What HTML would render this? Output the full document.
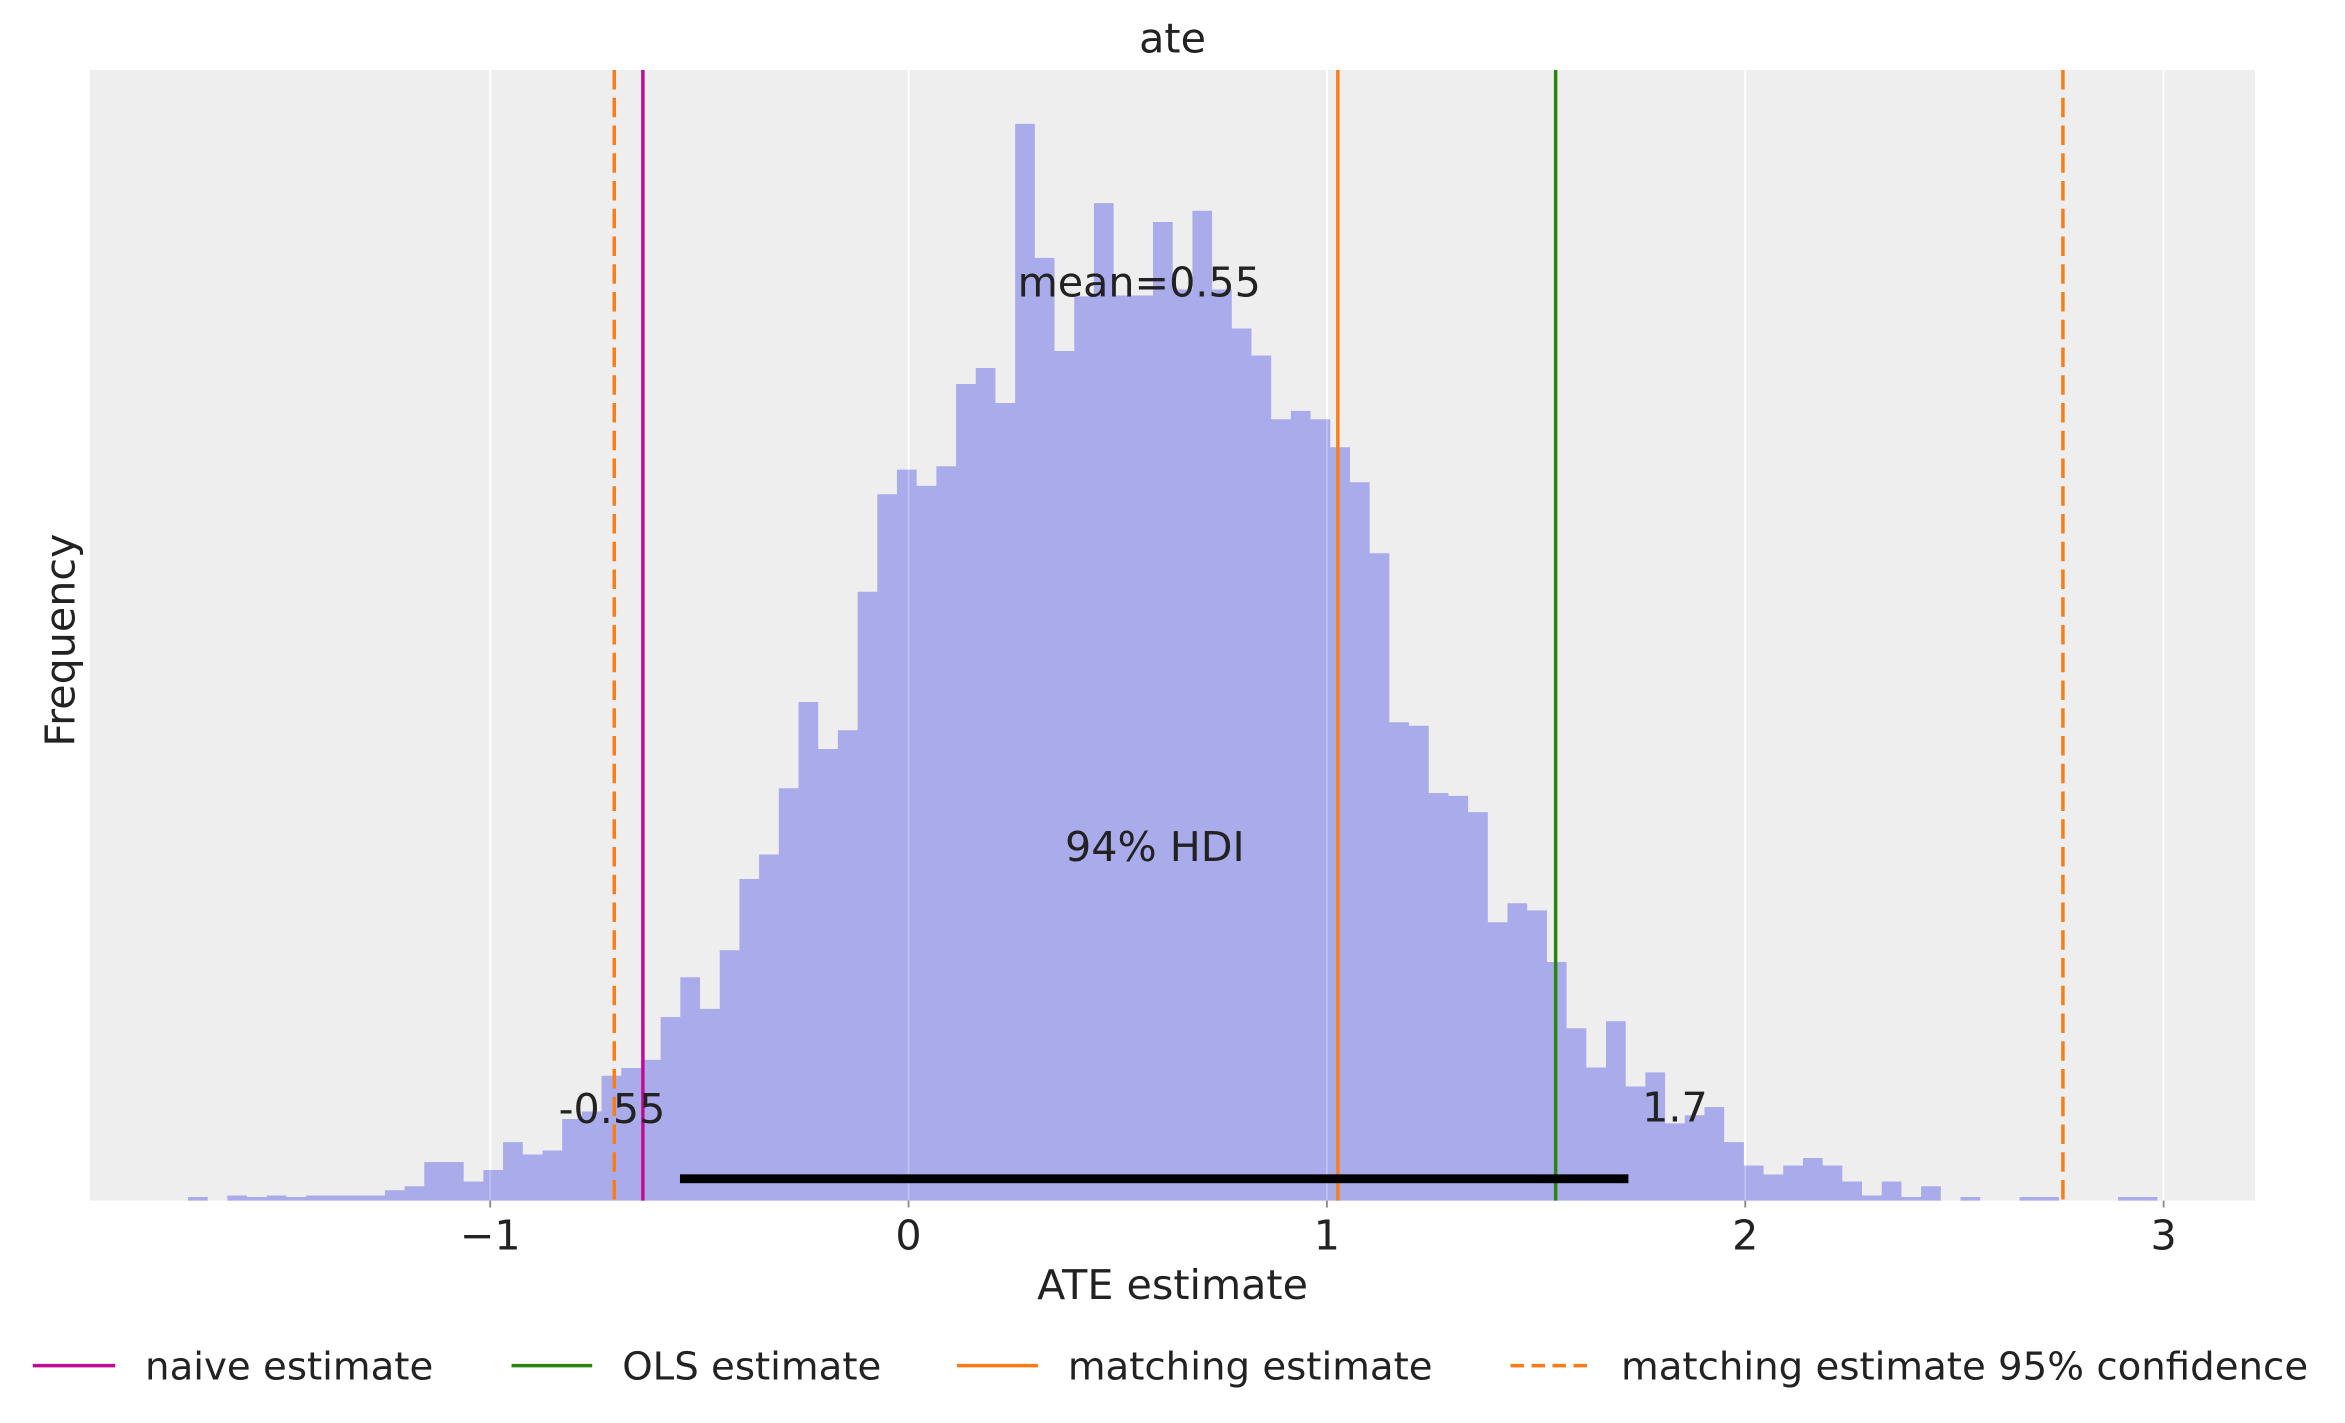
<!DOCTYPE html>
<html><head><meta charset="utf-8"><style>html,body{margin:0;padding:0;background:#fff}svg{display:block}</style></head>
<body>
<svg xmlns="http://www.w3.org/2000/svg" width="2345" height="1423" viewBox="0 0 1563.33 948.67" font-family="'DejaVu Sans','Liberation Sans',sans-serif" fill="#222">
<rect x="0" y="0" width="1563.33" height="948.67" fill="#fff"/>
<rect x="59.8" y="46.7" width="1443.5" height="753.7" fill="#eeeeee"/>
<g stroke="#fff" stroke-width="1.2">
<line x1="326.8" y1="46.7" x2="326.8" y2="800.4"/><line x1="605.7" y1="46.7" x2="605.7" y2="800.4"/><line x1="884.6" y1="46.7" x2="884.6" y2="800.4"/><line x1="1163.5" y1="46.7" x2="1163.5" y2="800.4"/><line x1="1442.4" y1="46.7" x2="1442.4" y2="800.4"/>
</g>
<path fill="#aaabea" d="M125.3 800.4V798h13.13V800.4h13.13V797h13.13V798h13.13V797h13.13V798h13.13V797h52.52V793.5h13.13V790.8h13.13V774.7h26.26V787.7h13.13V780h13.13V761.4h13.13V769.7h13.13V767h13.13V746h13.13V741h13.13V717.2h13.13V712h13.13V706.6h13.13V678h13.13V651.5h13.13V672.6h13.13V633.5h13.13V586h13.13V569.7h13.13V525.5h13.13V468h13.13V499.3h13.13V486.8h13.13V394.5h13.13V329.5h13.13V313.1h13.13V323.9h13.13V310.8h13.13V256h13.13V245.3h13.13V268.7h13.13V82.6h13.13V171.9h13.13V234h13.13V197.6h13.13V135.4h13.13V197h26.26V148h13.13V193h13.13V140.5h13.13V193h13.13V219h13.13V237h13.13V279.5h13.13V273.9h13.13V279.5h13.13V298.2h13.13V321.5h13.13V368.8h13.13V481.5h13.13V483.8h13.13V528.7h13.13V530.6h13.13V541.4h13.13V614.8h13.13V602.2h13.13V606.9h13.13V641.3h13.13V685.5h13.13V711.7h13.13V680.8h13.13V724.3h13.13V714.9h13.13V748.9h13.13V743.5h13.13V738h13.13V761.4h13.13V777h13.13V783h13.13V777h13.13V772h13.13V777h13.13V787.7h13.13V797h13.13V787.7h13.13V798h13.13V790.8h13.13V800.4h13.13V798h13.13V800.4h26.26V798h26.26V800.4h39.39V798h26.26V800.4Z"/>
<g stroke="#fff" stroke-width="1.2" opacity="0.25">
<line x1="326.8" y1="46.7" x2="326.8" y2="800.4"/><line x1="605.7" y1="46.7" x2="605.7" y2="800.4"/><line x1="884.6" y1="46.7" x2="884.6" y2="800.4"/><line x1="1163.5" y1="46.7" x2="1163.5" y2="800.4"/>
</g>
<g stroke-width="2.3">
<line x1="409.5" y1="46.7" x2="409.5" y2="800.4" stroke="#fa7c17" stroke-dasharray="13 5.5"/>
<line x1="1375.3" y1="46.7" x2="1375.3" y2="800.4" stroke="#fa7c17" stroke-dasharray="13 5.5"/>
<line x1="428.6" y1="46.7" x2="428.6" y2="800.4" stroke="#c20a92"/>
<line x1="891.9" y1="46.7" x2="891.9" y2="800.4" stroke="#fa7c17"/>
<line x1="1037.1" y1="46.7" x2="1037.1" y2="800.4" stroke="#2a850e"/>
</g>
<rect x="453.3" y="782.9" width="632.3" height="5.9" fill="#000"/>
<g stroke="#888" stroke-width="1.2">
<line x1="326.8" y1="800.4" x2="326.8" y2="805"/><line x1="605.7" y1="800.4" x2="605.7" y2="805"/><line x1="884.6" y1="800.4" x2="884.6" y2="805"/><line x1="1163.5" y1="800.4" x2="1163.5" y2="805"/><line x1="1442.4" y1="800.4" x2="1442.4" y2="805"/>
</g>
<g font-size="27.5" text-anchor="middle">
<text x="408" y="748.8">-0.55</text>
<text x="1116.6" y="747.7">1.7</text>
<text x="769.9" y="574">94% HDI</text>
<text x="759.5" y="197.6">mean=0.55</text>
<text x="781.7" y="35.1">ate</text>
<text x="326.8" y="832.9">−1</text>
<text x="605.7" y="832.9">0</text>
<text x="884.6" y="832.9">1</text>
<text x="1163.5" y="832.9">2</text>
<text x="1442.4" y="832.9">3</text>
<text x="781.7" y="866">ATE estimate</text>
<text x="0" y="0" transform="translate(49.5,426.7) rotate(-90)">Frequency</text>
</g>
<g stroke-width="2.3">
<line x1="21.9" y1="910.4" x2="76.8" y2="910.4" stroke="#c20a92"/>
<line x1="341" y1="910.4" x2="394.8" y2="910.4" stroke="#2a850e"/>
<line x1="638" y1="910.4" x2="692" y2="910.4" stroke="#fa7c17"/>
<line x1="1007" y1="910.4" x2="1061" y2="910.4" stroke="#fa7c17" stroke-dasharray="9 5"/>
</g>
<g font-size="25.8">
<text x="96.7" y="919.6">naive estimate</text>
<text x="414.8" y="919.6">OLS estimate</text>
<text x="711.9" y="919.6">matching estimate</text>
<text x="1080.7" y="919.6">matching estimate 95% confidence</text>
</g>
</svg>
</body></html>
